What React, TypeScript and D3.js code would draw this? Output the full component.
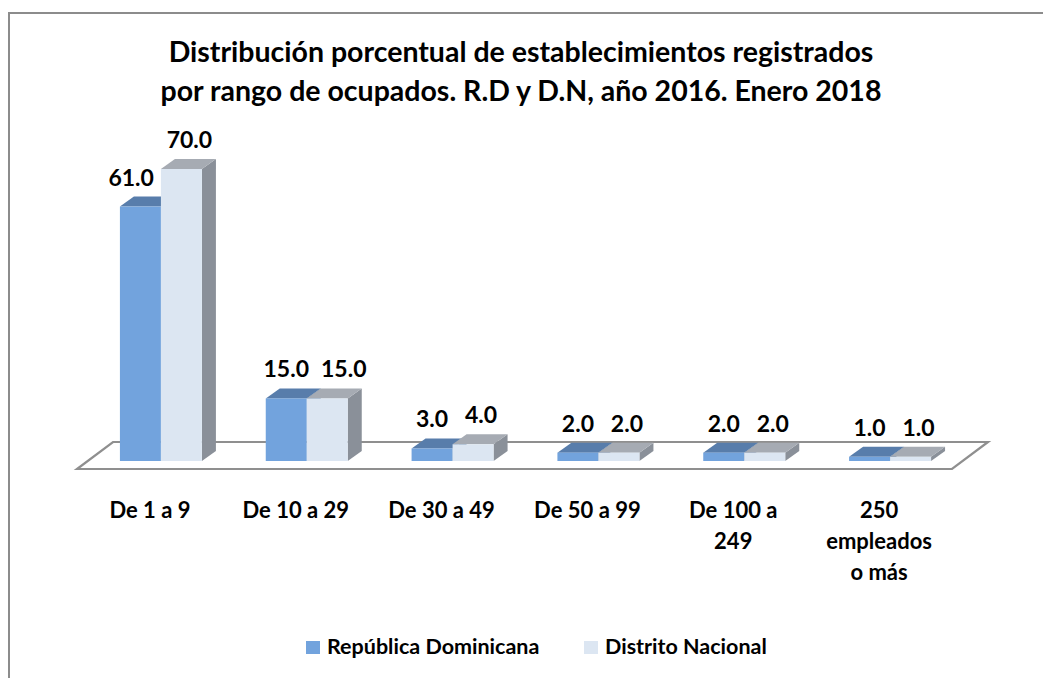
import { useEffect, useRef } from "react"
import * as d3 from "d3"

const categories = ["De 1 a 9", "De 10 a 29", "De 30 a 49", "De 50 a 99", "De 100 a 249", "250 empleados o más"]
const seriesNames = ["República Dominicana", "Distrito Nacional"]
const republica = [61, 15, 3, 2, 2, 1]
const distrito = [70, 15, 4, 2, 2, 1]
const titleLines = [
  "Distribución porcentual de establecimientos registrados",
  "por rango de ocupados. R.D y D.N, año 2016. Enero 2018",
]

const W = 1043
const H = 678
const FONT = "Lato, 'Open Sans', sans-serif"

const palette = [
  { front: "#72a3dd", top: "#587dab", side: "#4d6e98" },
  { front: "#dce6f2", top: "#a6abb3", side: "#8a9099" },
]

export default function App() {
  const svgRef = useRef<SVGSVGElement>(null)

  useEffect(() => {
    if (!svgRef.current) return
    document.body.style.margin = "0"

    const svg = d3.select(svgRef.current)
    svg.selectAll("*").remove()

    // outer frame (runs past the right and bottom edges)
    svg.append("rect")
      .attr("x", 9).attr("y", 13)
      .attr("width", 1100).attr("height", 1000)
      .attr("fill", "#fff")
      .attr("stroke", "#8c8c8c")
      .attr("stroke-width", 2)

    // title
    svg.append("text")
      .attr("text-anchor", "middle")
      .attr("font-family", FONT)
      .attr("font-weight", 700)
      .attr("font-size", 28.5)
      .attr("fill", "#000")
      .selectAll("tspan")
      .data(titleLines)
      .join("tspan")
      .attr("x", 521)
      .attr("y", (_, i) => 62 + i * 39)
      .text(d => d)

    // floor geometry
    const floorFront = 469
    const floorDx = 36
    const floorDy = -27
    const barShiftX = 11
    const barShiftY = -8
    const depthX = 14
    const depthY = -10
    const barW = 41

    const x = d3.scaleBand<string>().domain(categories).range([77, 952])
    const inner = d3.scaleBand<string>()
      .domain(seriesNames)
      .range([(x.bandwidth() - barW * 2) / 2, (x.bandwidth() + barW * 2) / 2])
    const base = floorFront + barShiftY
    const y = d3.scaleLinear().domain([0, 70]).range([base, 169])

    const [x0, x1] = x.range()
    svg.append("path")
      .attr("d", `M${x0},${floorFront}L${x1},${floorFront}L${x1 + floorDx},${floorFront + floorDy}L${x0 + floorDx},${floorFront + floorDy}Z`)
      .attr("fill", "#fff")
      .attr("stroke", "#8f8f8f")
      .attr("stroke-width", 2.2)
      .attr("stroke-linejoin", "miter")

    const series = [republica, distrito]
    const bars = svg.append("g")
    const labels = svg.append("g")
      .attr("font-family", FONT)
      .attr("font-weight", 700)
      .attr("font-size", 23)
      .attr("fill", "#000")

    categories.forEach((cat, ci) => {
      const placed: { left: number; right: number }[] = []
      seriesNames.forEach((name, si) => {
        const v = series[si][ci]
        const bx = (x(cat) ?? 0) + (inner(name) ?? 0) + barShiftX
        const yt = y(v)
        const c = palette[si]
        const g = bars.append("g")
        g.append("path")
          .attr("d", `M${bx + barW},${yt}L${bx + barW + depthX},${yt + depthY}L${bx + barW + depthX},${base + depthY}L${bx + barW},${base}Z`)
          .attr("fill", c.side)
        g.append("path")
          .attr("d", `M${bx},${yt}L${bx + depthX},${yt + depthY}L${bx + barW + depthX},${yt + depthY}L${bx + barW},${yt}Z`)
          .attr("fill", c.top)
        g.append("rect")
          .attr("x", bx).attr("y", yt)
          .attr("width", barW).attr("height", base - yt)
          .attr("fill", c.front)

        const t = labels.append("text")
          .attr("y", yt + depthY - 11)
          .text(v.toFixed(1))
        const w = (t.node() as SVGTextElement).getComputedTextLength()
        let cx = bx + barW / 2 + (si === 1 ? 8 : 0)

        if (si === 0) {
          // keep the label clear of a taller neighbour bar
          const nv = series[1][ci]
          const nx = (x(cat) ?? 0) + (inner(seriesNames[1]) ?? 0) + barShiftX
          if (y(nv) + depthY < yt + depthY - 11 && cx + w / 2 > nx - 7) cx = nx - 7 - w / 2
        } else if (placed.length) {
          const prev = placed[0]
          if (cx - w / 2 < prev.right + 12) cx = prev.right + 12 + w / 2
        }
        t.attr("x", cx).attr("text-anchor", "middle")
        placed.push({ left: cx - w / 2, right: cx + w / 2 })
      })
    })

    // category labels with word wrap
    const wrapWidth = 115
    const catG = svg.append("g")
      .attr("font-family", FONT)
      .attr("font-weight", 700)
      .attr("font-size", 22)
      .attr("fill", "#000")
      .attr("text-anchor", "middle")

    categories.forEach(cat => {
      const cx = (x(cat) ?? 0) + x.bandwidth() / 2
      const text = catG.append("text").attr("x", cx).attr("y", 518)
      const words = cat.split(" ")
      let line: string[] = []
      let lineNo = 0
      let tspan = text.append("tspan").attr("x", cx).attr("y", 518)
      words.forEach(word => {
        line.push(word)
        tspan.text(line.join(" "))
        const node = tspan.node() as SVGTSpanElement
        if (node.getComputedTextLength() > wrapWidth && line.length > 1) {
          line.pop()
          tspan.text(line.join(" "))
          line = [word]
          lineNo += 1
          tspan = text.append("tspan").attr("x", cx).attr("y", 518 + lineNo * 31).text(word)
        }
      })
    })

    // legend
    const legend = svg.append("g")
      .attr("font-family", FONT)
      .attr("font-weight", 700)
      .attr("font-size", 21.5)
      .attr("fill", "#000")
    const legendX = [306, 584]
    seriesNames.forEach((name, i) => {
      legend.append("rect")
        .attr("x", legendX[i]).attr("y", 641)
        .attr("width", 14).attr("height", 13)
        .attr("fill", palette[i].front)
      legend.append("text")
        .attr("x", legendX[i] + 21).attr("y", 654)
        .text(name)
    })
  }, [])

  return <svg ref={svgRef} width={W} height={H} style={{ display: "block" }} />
}
